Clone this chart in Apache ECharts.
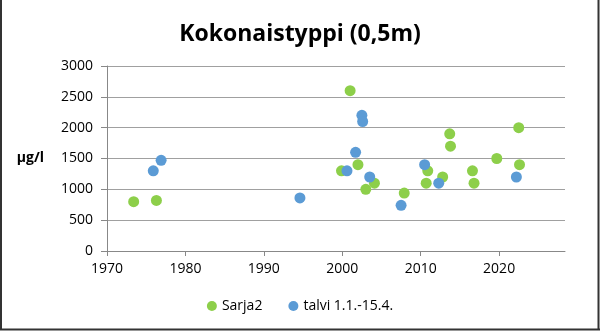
<!DOCTYPE html>
<html>
<head>
<meta charset="utf-8">
<script src="https://cdn.jsdelivr.net/npm/echarts@6/dist/echarts.min.js"></script>
<style>
  html, body { margin: 0; padding: 0; background: #fff; }
  #chart { width: 600px; height: 331px; }
</style>
</head>
<body>
<div id="chart"></div>
<script>
// Total phosphorus at 0.5 m depth, µg/l, by sampling date (decimal year)
const sarja2Years  = [1973.4, 1976.3, 1999.9, 2001.0, 2002.0, 2003.0, 2004.1, 2007.9, 2010.7, 2010.9, 2012.8, 2013.7, 2013.8, 2016.6, 2016.8, 2019.7, 2022.5, 2022.6];
const sarja2Values = [800, 820, 1300, 2600, 1400, 1000, 1100, 940, 1100, 1300, 1200, 1900, 1700, 1300, 1100, 1500, 2000, 1400];

const talviYears  = [1975.9, 1976.9, 1994.6, 2000.6, 2001.7, 2002.5, 2002.6, 2003.5, 2007.5, 2010.5, 2012.3, 2022.2];
const talviValues = [1300, 1470, 860, 1300, 1600, 2200, 2100, 1200, 740, 1400, 1100, 1200];

const seriesNames = ['Sarja2', 'talvi 1.1.-15.4.'];
const titleText = 'Kokonaistyppi (0,5m)';
const yAxisName = 'µg/l';

const pairs = (xs, ys) => xs.map((x, i) => [x, ys[i]]);

const chart = echarts.init(document.getElementById('chart'), null, { renderer: 'canvas' });
const font = 'Open Sans, Noto Sans, sans-serif';

chart.setOption({
  animation: false,
  backgroundColor: '#fff',
  title: {
    text: titleText,
    left: 'center',
    top: 18,
    textStyle: { fontFamily: font, fontSize: 23, fontWeight: 'bold', color: '#000' }
  },
  legend: {
    bottom: 13,
    left: 'center',
    itemWidth: 10,
    itemHeight: 10,
    itemGap: 26,
    icon: 'circle',
    textStyle: { fontFamily: font, fontSize: 14, color: '#000' },
    data: seriesNames
  },
  grid: { left: 107, right: 35, top: 66, bottom: 80, containLabel: false },
  xAxis: {
    type: 'value',
    min: 1970,
    max: 2028.4,
    interval: 10,
    axisLine: { show: true, lineStyle: { color: '#888', width: 1 } },
    axisTick: { show: true, length: 5, lineStyle: { color: '#888' } },
    axisLabel: {
      showMaxLabel: false,
      fontFamily: font, fontSize: 14, color: '#000', margin: 11,
      formatter: v => String(v)
    },
    splitLine: { show: false }
  },
  yAxis: {
    type: 'value',
    min: 0,
    max: 3000,
    interval: 500,
    name: yAxisName,
    nameLocation: 'middle',
    nameRotate: 0,
    nameGap: 63,
    nameTextStyle: { fontFamily: font, fontSize: 14, fontWeight: 'bold', color: '#000' },
    axisLine: { show: true, lineStyle: { color: '#888', width: 1 } },
    axisTick: { show: true, length: 6, inside: false, lineStyle: { color: '#888' } },
    axisLabel: {
      fontFamily: font, fontSize: 14, color: '#000', margin: 14,
      formatter: v => String(v)
    },
    splitLine: { show: true, lineStyle: { color: '#a0a0a0', width: 1 } }
  },
  graphic: [
    { type: 'line', shape: { x1: 1, y1: 0, x2: 1, y2: 329.5 }, style: { stroke: '#333', lineWidth: 2 } },
    { type: 'line', shape: { x1: 598.5, y1: 0, x2: 598.5, y2: 329.5 }, style: { stroke: '#333', lineWidth: 2 } },
    { type: 'line', shape: { x1: 0, y1: 329.5, x2: 600, y2: 329.5 }, style: { stroke: '#333', lineWidth: 2 } }
  ],
  series: [
    {
      name: seriesNames[0],
      type: 'scatter',
      symbolSize: 11,
      itemStyle: { color: '#8dcf4a', opacity: 1 },
      data: pairs(sarja2Years, sarja2Values)
    },
    {
      name: seriesNames[1],
      type: 'scatter',
      symbolSize: 11,
      itemStyle: { color: '#5b9bd5', opacity: 1 },
      data: pairs(talviYears, talviValues)
    }
  ]
});
</script>
</body>
</html>
